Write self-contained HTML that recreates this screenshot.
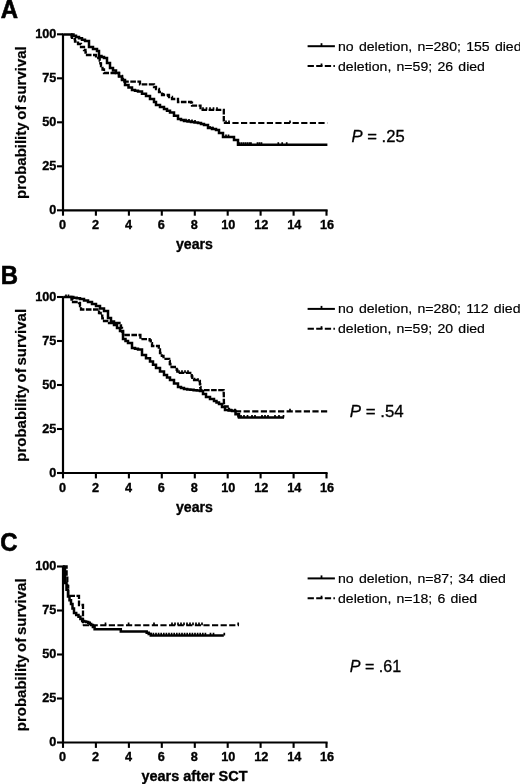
<!DOCTYPE html>
<html lang="en">
<head>
<meta charset="utf-8">
<title>Survival curves</title>
<style>
html,body{margin:0;padding:0;background:#fff;}
body{width:520px;height:784px;overflow:hidden;}
svg{display:block;font-family:"Liberation Sans", Arial, Helvetica, sans-serif;fill:#000;}
.L{font-size:25.2px;font-weight:700;stroke:#000;stroke-width:0.6px;}
text[font-weight="700"]{stroke:#000;stroke-width:0.35px;}
.r{stroke:#000;stroke-width:0.2px;}
.p{stroke:#000;stroke-width:0.3px;}
</style>
</head>
<body>
<svg width="520" height="784" viewBox="0 0 520 784">
<rect x="0" y="0" width="520" height="784" fill="#fff"/>
<text transform="translate(0.8,17.7) scale(0.95,1)" class="L">A</text>
<text transform="translate(0.7,283.6) scale(0.95,1)" class="L">B</text>
<text transform="translate(0.3,550.5) scale(0.95,1)" class="L">C</text>
<path d="M63.0,33.5 V211.0" stroke="#000" stroke-width="2.2" fill="none"/>
<path d="M62.0,210.3 H327.6" stroke="#000" stroke-width="2.2" fill="none"/>
<path d="M57.0,34.3 H63.0" stroke="#000" stroke-width="2.1"/>
<text x="56.3" y="38.0" text-anchor="end" font-size="12.7" font-weight="700">100</text>
<path d="M57.0,78.3 H63.0" stroke="#000" stroke-width="2.1"/>
<text x="56.3" y="82.0" text-anchor="end" font-size="12.7" font-weight="700">75</text>
<path d="M57.0,122.3 H63.0" stroke="#000" stroke-width="2.1"/>
<text x="56.3" y="126.0" text-anchor="end" font-size="12.7" font-weight="700">50</text>
<path d="M57.0,166.3 H63.0" stroke="#000" stroke-width="2.1"/>
<text x="56.3" y="170.0" text-anchor="end" font-size="12.7" font-weight="700">25</text>
<path d="M57.0,210.3 H63.0" stroke="#000" stroke-width="2.1"/>
<text x="56.3" y="214.0" text-anchor="end" font-size="12.7" font-weight="700">0</text>
<path d="M63.0,210.3 V215.7" stroke="#000" stroke-width="2.1"/>
<text x="62.6" y="228.8" text-anchor="middle" font-size="12.7" font-weight="700">0</text>
<path d="M95.9,210.3 V215.7" stroke="#000" stroke-width="2.1"/>
<text x="95.5" y="228.8" text-anchor="middle" font-size="12.7" font-weight="700">2</text>
<path d="M128.9,210.3 V215.7" stroke="#000" stroke-width="2.1"/>
<text x="128.5" y="228.8" text-anchor="middle" font-size="12.7" font-weight="700">4</text>
<path d="M161.8,210.3 V215.7" stroke="#000" stroke-width="2.1"/>
<text x="161.4" y="228.8" text-anchor="middle" font-size="12.7" font-weight="700">6</text>
<path d="M194.8,210.3 V215.7" stroke="#000" stroke-width="2.1"/>
<text x="194.4" y="228.8" text-anchor="middle" font-size="12.7" font-weight="700">8</text>
<path d="M227.7,210.3 V215.7" stroke="#000" stroke-width="2.1"/>
<text x="228.3" y="228.8" text-anchor="middle" font-size="12.7" font-weight="700">10</text>
<path d="M260.6,210.3 V215.7" stroke="#000" stroke-width="2.1"/>
<text x="261.2" y="228.8" text-anchor="middle" font-size="12.7" font-weight="700">12</text>
<path d="M293.6,210.3 V215.7" stroke="#000" stroke-width="2.1"/>
<text x="294.2" y="228.8" text-anchor="middle" font-size="12.7" font-weight="700">14</text>
<path d="M326.5,210.3 V215.7" stroke="#000" stroke-width="2.1"/>
<text x="327.1" y="228.8" text-anchor="middle" font-size="12.7" font-weight="700">16</text>
<text transform="translate(26.2,199.0) rotate(-90) scale(1,0.97)" font-size="15" font-weight="700" style="stroke-width:0.2px" word-spacing="-1.5">probability of survival</text>
<text x="176" y="249.0" font-size="14.6" font-weight="700" textLength="36.9" lengthAdjust="spacingAndGlyphs">years</text>
<path d="M71.0,34.4 L71.5,34.4 L71.5,36.7 L72.0,36.7 L72.0,39.0 L75.0,39.0 L75.0,41.5 L78.0,41.5 L78.0,44.0 L81.0,44.0 L81.0,47.0 L84.0,47.0 L84.0,50.0 L85.5,50.0 L85.5,52.5 L87.0,52.5 L87.0,55.0 L95.0,55.0 L96.0,55.0 L96.0,58.0 L99.0,58.0 L99.7,58.0 L99.7,60.7 L100.3,60.7 L100.3,63.3 L101.0,63.3 L101.0,66.0 L102.5,66.0 L102.5,69.5 L104.0,69.5 L104.0,73.0 L116.0,73.0 L119.0,73.0 L119.0,76.0 L122.0,76.0 L122.0,79.0 L123.0,79.0 L123.0,81.6 L138.0,81.6 L140.0,81.6 L140.0,84.4 L150.0,84.4 L154.0,84.4 L154.0,87.0 L156.0,87.0 L156.0,89.0 L159.0,89.0 L159.0,92.0 L162.0,92.0 L162.0,95.0 L169.0,95.0 L169.0,97.0 L172.0,97.0 L172.0,99.0 L178.0,99.0 L178.0,102.0 L191.0,102.0 L191.0,102.6 L192.0,102.6 L192.0,105.6 L199.5,105.6 L200.5,105.6 L200.5,109.8 L221.0,109.8 L223.8,109.8 L223.8,110.5 L223.8,123.0" stroke="#000" stroke-width="2.3" fill="none" stroke-dasharray="5.6 1.5" stroke-linejoin="miter"/>
<path d="M223.8,123.0 L327.2,123.0" stroke="#000" stroke-width="2.1" fill="none" stroke-dasharray="6.2 2.4"/>
<path d="M63.6,34.4 L71.0,34.4 L73.5,34.4 L73.5,35.7 L76.0,35.7 L76.0,37.0 L79.0,37.0 L79.0,38.3 L82.0,38.3 L82.0,39.7 L85.0,39.7 L85.0,41.0 L89.0,41.0 L89.0,47.0 L93.0,47.0 L93.0,49.0 L97.0,49.0 L97.0,51.0 L99.0,51.0 L99.0,56.0 L101.5,56.0 L101.5,57.0 L104.0,57.0 L104.0,58.0 L107.0,58.0 L107.0,63.0 L110.0,63.0 L110.0,68.0 L113.0,68.0 L113.0,70.5 L116.0,70.5 L116.0,73.0 L119.0,73.0 L119.0,76.5 L122.0,76.5 L122.0,80.0 L125.0,80.0 L125.0,85.0 L128.5,85.0 L128.5,87.5 L132.0,87.5 L132.0,90.0 L135.0,90.0 L135.0,90.8 L138.0,90.8 L138.0,91.6 L142.0,91.6 L142.0,93.8 L146.0,93.8 L146.0,96.0 L150.0,96.0 L150.0,99.0 L154.0,99.0 L154.0,102.0 L156.0,102.0 L156.0,105.0 L160.0,105.0 L160.0,107.0 L164.0,107.0 L164.0,109.0 L167.0,109.0 L167.0,110.7 L170.0,110.7 L170.0,112.4 L174.0,112.4 L174.0,115.7 L178.0,115.7 L178.0,119.0 L181.0,119.0 L181.0,120.0 L184.0,120.0 L184.0,121.0 L187.5,121.0 L187.5,121.5 L191.0,121.5 L191.0,122.0 L194.5,122.0 L194.5,122.5 L198.0,122.5 L198.0,123.0 L201.0,123.0 L201.0,124.0 L204.0,124.0 L204.0,125.0 L208.0,125.0 L208.0,128.0 L212.0,128.0 L212.0,129.0 L216.0,129.0 L216.0,130.0 L219.0,130.0 L219.0,133.0 L223.0,133.0 L223.0,137.0 L230.0,137.0 L234.0,137.0 L234.0,140.0 L238.0,140.0 L238.0,144.8 L327.4,144.8" stroke="#000" stroke-width="2.5" fill="none" stroke-linejoin="miter"/>
<path d="M239.5,144.8v-2.6M241.5,144.8v-2.6M243.5,144.8v-2.6M245.5,144.8v-2.6M247.5,144.8v-2.6M249.5,144.8v-2.6M251.0,144.8v-2.6M257.5,144.8v-2.6M259.5,144.8v-2.6M261.5,144.8v-2.6M278.3,144.8v-2.6M282.2,144.8v-2.6M286.7,144.8v-2.6M186.0,121.3v-2.6M189.0,121.6v-2.6M192.0,122.0v-2.6M195.0,122.5v-2.6M226.0,137.0v-2.6M228.5,137.0v-2.6M210.0,128.6v-2.6M213.0,129.3v-2.6M290.0,123.0v-2.6M226.0,123.0v-2.6M229.0,123.0v-2.6M163.5,95.5v-2.6M168.0,97.0v-2.6M203.0,109.8v-2.6M206.5,109.8v-2.6M210.0,109.8v-2.6M213.5,109.8v-2.6M217.0,109.8v-2.6" stroke="#000" stroke-width="1.7" fill="none"/>
<path d="M307.6,46.2 H334.9" stroke="#000" stroke-width="2"/>
<path d="M321.5,46.2 v-3.0" stroke="#000" stroke-width="1.8"/>
<path d="M307.6,66.1 H334.9" stroke="#000" stroke-width="2" stroke-dasharray="6.3 2.3" fill="none"/>
<path d="M321.5,66.1 v-2.6" stroke="#000" stroke-width="1.8"/>
<text transform="translate(338.0,50.7) scale(1,0.95)" class="r" font-size="14.1" word-spacing="1.3">no deletion, n=280; 155 died</text>
<text transform="translate(338.0,70.6) scale(1,0.95)" class="r" font-size="14.1" word-spacing="1.3">deletion, n=59; 26 died</text>
<text x="351.6" y="141.9" class="p" font-size="16.4" textLength="53.1" lengthAdjust="spacingAndGlyphs"><tspan font-style="italic">P</tspan> = .25</text>
<path d="M63.0,296.2 V473.7" stroke="#000" stroke-width="2.2" fill="none"/>
<path d="M62.0,473.0 H327.6" stroke="#000" stroke-width="2.2" fill="none"/>
<path d="M57.0,297.0 H63.0" stroke="#000" stroke-width="2.1"/>
<text x="56.3" y="300.7" text-anchor="end" font-size="12.7" font-weight="700">100</text>
<path d="M57.0,341.0 H63.0" stroke="#000" stroke-width="2.1"/>
<text x="56.3" y="344.7" text-anchor="end" font-size="12.7" font-weight="700">75</text>
<path d="M57.0,385.0 H63.0" stroke="#000" stroke-width="2.1"/>
<text x="56.3" y="388.7" text-anchor="end" font-size="12.7" font-weight="700">50</text>
<path d="M57.0,429.0 H63.0" stroke="#000" stroke-width="2.1"/>
<text x="56.3" y="432.7" text-anchor="end" font-size="12.7" font-weight="700">25</text>
<path d="M57.0,473.0 H63.0" stroke="#000" stroke-width="2.1"/>
<text x="56.3" y="476.7" text-anchor="end" font-size="12.7" font-weight="700">0</text>
<path d="M63.0,473.0 V478.4" stroke="#000" stroke-width="2.1"/>
<text x="62.6" y="491.5" text-anchor="middle" font-size="12.7" font-weight="700">0</text>
<path d="M95.9,473.0 V478.4" stroke="#000" stroke-width="2.1"/>
<text x="95.5" y="491.5" text-anchor="middle" font-size="12.7" font-weight="700">2</text>
<path d="M128.9,473.0 V478.4" stroke="#000" stroke-width="2.1"/>
<text x="128.5" y="491.5" text-anchor="middle" font-size="12.7" font-weight="700">4</text>
<path d="M161.8,473.0 V478.4" stroke="#000" stroke-width="2.1"/>
<text x="161.4" y="491.5" text-anchor="middle" font-size="12.7" font-weight="700">6</text>
<path d="M194.8,473.0 V478.4" stroke="#000" stroke-width="2.1"/>
<text x="194.4" y="491.5" text-anchor="middle" font-size="12.7" font-weight="700">8</text>
<path d="M227.7,473.0 V478.4" stroke="#000" stroke-width="2.1"/>
<text x="228.3" y="491.5" text-anchor="middle" font-size="12.7" font-weight="700">10</text>
<path d="M260.6,473.0 V478.4" stroke="#000" stroke-width="2.1"/>
<text x="261.2" y="491.5" text-anchor="middle" font-size="12.7" font-weight="700">12</text>
<path d="M293.6,473.0 V478.4" stroke="#000" stroke-width="2.1"/>
<text x="294.2" y="491.5" text-anchor="middle" font-size="12.7" font-weight="700">14</text>
<path d="M326.5,473.0 V478.4" stroke="#000" stroke-width="2.1"/>
<text x="327.1" y="491.5" text-anchor="middle" font-size="12.7" font-weight="700">16</text>
<text transform="translate(26.2,461.7) rotate(-90) scale(1,0.97)" font-size="15" font-weight="700" style="stroke-width:0.2px" word-spacing="-1.5">probability of survival</text>
<text x="176" y="511.7" font-size="14.6" font-weight="700" textLength="36.9" lengthAdjust="spacingAndGlyphs">years</text>
<path d="M70.0,297.0 L71.5,297.0 L71.5,299.5 L73.0,299.5 L73.0,302.0 L79.0,302.0 L79.0,303.0 L80.0,303.0 L80.0,306.2 L81.0,306.2 L81.0,309.5 L97.0,309.5 L99.0,309.5 L99.0,313.0 L100.7,313.0 L100.7,315.7 L102.3,315.7 L102.3,318.3 L104.0,318.3 L104.0,321.0 L109.0,321.0 L109.0,323.0 L118.0,323.0 L119.5,323.0 L119.5,325.5 L121.0,325.5 L121.0,328.0 L122.0,328.0 L122.0,331.5 L123.0,331.5 L123.0,335.0 L139.2,335.0 L140.4,335.0 L140.4,339.2 L149.6,339.2 L149.6,340.4 L150.8,340.4 L150.8,343.2 L152.0,343.2 L152.0,346.0 L157.7,346.0 L158.8,346.0 L158.8,349.5 L160.0,349.5 L160.0,353.0 L161.8,353.0 L161.8,355.9 L163.5,355.9 L163.5,358.8 L169.2,358.8 L169.2,361.0 L169.8,361.0 L169.8,364.0 L170.4,364.0 L170.4,367.0 L176.0,367.0 L176.7,367.0 L176.7,369.9 L177.3,369.9 L177.3,372.9 L191.0,372.9 L191.7,372.9 L191.7,376.4 L192.3,376.4 L192.3,380.0 L199.5,380.0 L199.5,381.0 L199.9,381.0 L199.9,384.1 L200.2,384.1 L200.2,387.1 L200.6,387.1 L200.6,390.2 L223.6,390.2 L223.6,390.4 L223.7,390.4 L223.7,393.6 L223.8,393.6 L223.8,396.8 L223.8,396.8 L223.8,400.1 L223.9,400.1 L223.9,403.3 L224.0,403.3 L224.0,406.5 L229.0,406.5 L229.0,410.0 L235.0,410.0 L235.0,411.4" stroke="#000" stroke-width="2.3" fill="none" stroke-dasharray="5.6 1.5" stroke-linejoin="miter"/>
<path d="M235.0,411.4 L327.4,411.4" stroke="#000" stroke-width="2.1" fill="none" stroke-dasharray="6.2 2.4"/>
<path d="M63.6,297.0 L70.0,297.0 L73.3,297.0 L73.3,297.7 L76.7,297.7 L76.7,298.3 L80.0,298.3 L80.0,299.0 L84.0,299.0 L84.0,300.5 L88.0,300.5 L88.0,302.0 L92.0,302.0 L92.0,304.0 L96.0,304.0 L96.0,306.0 L100.0,306.0 L100.0,308.5 L104.0,308.5 L104.0,311.0 L108.0,311.0 L108.0,318.0 L111.0,318.0 L111.0,321.5 L114.0,321.5 L114.0,325.0 L117.0,325.0 L117.0,328.0 L120.0,328.0 L120.0,331.0 L123.0,331.0 L123.0,339.0 L125.5,339.0 L125.5,341.0 L128.0,341.0 L128.0,343.0 L132.0,343.0 L132.0,348.0 L135.0,348.0 L135.0,348.8 L138.0,348.8 L138.0,349.6 L142.0,349.6 L142.0,355.0 L146.0,355.0 L146.0,358.2 L150.0,358.2 L150.0,361.5 L153.0,361.5 L153.0,364.8 L156.0,364.8 L156.0,368.0 L160.0,368.0 L160.0,371.5 L164.0,371.5 L164.0,375.0 L167.0,375.0 L167.0,377.5 L170.0,377.5 L170.0,380.0 L174.0,380.0 L174.0,383.5 L178.0,383.5 L178.0,387.0 L181.0,387.0 L181.0,388.0 L184.0,388.0 L184.0,389.0 L187.2,389.0 L187.2,389.4 L190.4,389.4 L190.4,389.8 L193.6,389.8 L193.6,390.2 L196.8,390.2 L196.8,390.6 L200.0,390.6 L200.0,391.0 L203.0,391.0 L203.0,394.0 L206.0,394.0 L206.0,397.0 L210.0,397.0 L210.0,399.0 L214.0,399.0 L214.0,401.0 L216.5,401.0 L216.5,402.5 L219.0,402.5 L219.0,404.0 L222.0,404.0 L222.0,407.0 L225.0,407.0 L225.0,410.0 L228.5,410.0 L228.5,410.5 L232.0,410.5 L232.0,411.0 L235.5,411.0 L235.5,414.3 L239.0,414.3 L239.0,417.6 L284.0,417.6" stroke="#000" stroke-width="2.5" fill="none" stroke-linejoin="miter"/>
<path d="M238.0,417.6v-2.6M241.0,417.6v-2.6M244.0,417.6v-2.6M247.5,417.6v-2.6M252.0,417.6v-2.6M255.0,417.6v-2.6M262.0,417.6v-2.6M265.0,417.6v-2.6M268.0,417.6v-2.6M275.0,417.6v-2.6M279.0,417.6v-2.6M283.5,417.6v-2.6M66.0,297.0v-2.6M68.5,297.0v-2.6M290.0,411.4v-2.6M179.0,372.9v-2.6M182.0,372.9v-2.6M185.0,372.9v-2.6M188.0,372.9v-2.6M194.5,380.3v-2.6M198.0,380.8v-2.6" stroke="#000" stroke-width="1.7" fill="none"/>
<path d="M307.6,308.9 H334.9" stroke="#000" stroke-width="2"/>
<path d="M321.5,308.9 v-3.0" stroke="#000" stroke-width="1.8"/>
<path d="M307.6,328.8 H334.9" stroke="#000" stroke-width="2" stroke-dasharray="6.3 2.3" fill="none"/>
<path d="M321.5,328.8 v-2.6" stroke="#000" stroke-width="1.8"/>
<text transform="translate(338.0,313.4) scale(1,0.95)" class="r" font-size="14.1" word-spacing="1.3">no deletion, n=280; 112 died</text>
<text transform="translate(338.0,333.3) scale(1,0.95)" class="r" font-size="14.1" word-spacing="1.3">deletion, n=59; 20 died</text>
<text x="349.8" y="416.5" class="p" font-size="16.4" textLength="53.9" lengthAdjust="spacingAndGlyphs"><tspan font-style="italic">P</tspan> = .54</text>
<path d="M63.0,565.8 V743.2" stroke="#000" stroke-width="2.2" fill="none"/>
<path d="M62.0,742.5 H327.6" stroke="#000" stroke-width="2.2" fill="none"/>
<path d="M57.0,566.5 H63.0" stroke="#000" stroke-width="2.1"/>
<text x="56.3" y="570.2" text-anchor="end" font-size="12.7" font-weight="700">100</text>
<path d="M57.0,610.5 H63.0" stroke="#000" stroke-width="2.1"/>
<text x="56.3" y="614.2" text-anchor="end" font-size="12.7" font-weight="700">75</text>
<path d="M57.0,654.5 H63.0" stroke="#000" stroke-width="2.1"/>
<text x="56.3" y="658.2" text-anchor="end" font-size="12.7" font-weight="700">50</text>
<path d="M57.0,698.5 H63.0" stroke="#000" stroke-width="2.1"/>
<text x="56.3" y="702.2" text-anchor="end" font-size="12.7" font-weight="700">25</text>
<path d="M57.0,742.5 H63.0" stroke="#000" stroke-width="2.1"/>
<text x="56.3" y="746.2" text-anchor="end" font-size="12.7" font-weight="700">0</text>
<path d="M63.0,742.5 V747.9" stroke="#000" stroke-width="2.1"/>
<text x="62.6" y="761.0" text-anchor="middle" font-size="12.7" font-weight="700">0</text>
<path d="M95.9,742.5 V747.9" stroke="#000" stroke-width="2.1"/>
<text x="95.5" y="761.0" text-anchor="middle" font-size="12.7" font-weight="700">2</text>
<path d="M128.9,742.5 V747.9" stroke="#000" stroke-width="2.1"/>
<text x="128.5" y="761.0" text-anchor="middle" font-size="12.7" font-weight="700">4</text>
<path d="M161.8,742.5 V747.9" stroke="#000" stroke-width="2.1"/>
<text x="161.4" y="761.0" text-anchor="middle" font-size="12.7" font-weight="700">6</text>
<path d="M194.8,742.5 V747.9" stroke="#000" stroke-width="2.1"/>
<text x="194.4" y="761.0" text-anchor="middle" font-size="12.7" font-weight="700">8</text>
<path d="M227.7,742.5 V747.9" stroke="#000" stroke-width="2.1"/>
<text x="228.3" y="761.0" text-anchor="middle" font-size="12.7" font-weight="700">10</text>
<path d="M260.6,742.5 V747.9" stroke="#000" stroke-width="2.1"/>
<text x="261.2" y="761.0" text-anchor="middle" font-size="12.7" font-weight="700">12</text>
<path d="M293.6,742.5 V747.9" stroke="#000" stroke-width="2.1"/>
<text x="294.2" y="761.0" text-anchor="middle" font-size="12.7" font-weight="700">14</text>
<path d="M326.5,742.5 V747.9" stroke="#000" stroke-width="2.1"/>
<text x="327.1" y="761.0" text-anchor="middle" font-size="12.7" font-weight="700">16</text>
<text transform="translate(26.2,731.2) rotate(-90) scale(1,0.97)" font-size="15" font-weight="700" style="stroke-width:0.2px" word-spacing="-1.5">probability of survival</text>
<text x="141.5" y="781.0" font-size="14.6" font-weight="700" textLength="106" lengthAdjust="spacingAndGlyphs">years after SCT</text>
<path d="M63.2,566.5 L66.6,566.5 L66.6,576.3 L67.3,576.3 L67.3,586.0 L68.2,586.0 L68.2,595.8 L79.0,595.8 L79.0,605.0 L83.0,605.0 L83.0,625.2" stroke="#000" stroke-width="2.3" fill="none" stroke-dasharray="5.6 1.5" stroke-linejoin="miter"/>
<path d="M83.0,625.2 L239.0,625.2" stroke="#000" stroke-width="2.1" fill="none" stroke-dasharray="6.2 2.4"/>
<path d="M63.0,566.5 L63.5,566.5 L63.5,568.0 L65.0,568.0 L65.0,583.0 L66.5,583.0 L66.5,589.8 L68.0,589.8 L68.0,596.5 L69.5,596.5 L69.5,600.2 L71.0,600.2 L71.0,604.0 L72.5,604.0 L72.5,608.5 L74.0,608.5 L74.0,613.0 L76.2,613.0 L76.2,614.9 L78.5,614.9 L78.5,616.7 L80.4,616.7 L80.4,618.9 L82.2,618.9 L82.2,621.0 L84.2,621.0 L84.2,621.6 L86.2,621.6 L86.2,622.1 L88.2,622.1 L88.2,622.7 L89.8,622.7 L89.8,623.9 L91.2,623.9 L91.2,625.0 L92.9,625.0 L92.9,627.1 L94.6,627.1 L94.6,629.2 L120.8,629.2 L120.8,631.5 L144.6,631.5 L146.7,631.5 L146.7,632.8 L148.7,632.8 L148.7,634.1 L150.8,634.1 L150.8,635.4 L223.8,635.4" stroke="#000" stroke-width="2.5" fill="none" stroke-linejoin="miter"/>
<path d="M150.8,635.4v-2.6M153.4,635.4v-2.6M156.0,635.4v-2.6M158.6,635.4v-2.6M161.2,635.4v-2.6M163.8,635.4v-2.6M166.4,635.4v-2.6M169.0,635.4v-2.6M171.6,635.4v-2.6M174.2,635.4v-2.6M176.8,635.4v-2.6M179.4,635.4v-2.6M182.0,635.4v-2.6M184.6,635.4v-2.6M187.2,635.4v-2.6M189.8,635.4v-2.6M192.4,635.4v-2.6M195.0,635.4v-2.6M197.6,635.4v-2.6M200.2,635.4v-2.6M202.8,635.4v-2.6M205.4,635.4v-2.6M210.5,635.4v-2.6M213.5,635.4v-2.6M224.3,635.4v-2.6M105.5,625.2v-2.6M128.6,625.2v-2.6M154.0,625.2v-2.6M238.2,625.2v-2.6M172.0,625.2v-2.6M175.0,625.2v-2.6M178.0,625.2v-2.6M181.0,625.2v-2.6M184.0,625.2v-2.6M187.0,625.2v-2.6M190.0,625.2v-2.6M193.0,625.2v-2.6M196.0,625.2v-2.6M199.0,625.2v-2.6M202.0,625.2v-2.6" stroke="#000" stroke-width="1.7" fill="none"/>
<path d="M307.6,578.4 H334.9" stroke="#000" stroke-width="2"/>
<path d="M321.5,578.4 v-3.0" stroke="#000" stroke-width="1.8"/>
<path d="M307.6,598.3 H334.9" stroke="#000" stroke-width="2" stroke-dasharray="6.3 2.3" fill="none"/>
<path d="M321.5,598.3 v-2.6" stroke="#000" stroke-width="1.8"/>
<text transform="translate(338.0,582.9) scale(1,0.95)" class="r" font-size="14.1" word-spacing="1.3">no deletion, n=87; 34 died</text>
<text transform="translate(338.0,602.8) scale(1,0.95)" class="r" font-size="14.1" word-spacing="1.3">deletion, n=18; 6 died</text>
<text x="349.8" y="671.5" class="p" font-size="16.4" textLength="51.4" lengthAdjust="spacingAndGlyphs"><tspan font-style="italic">P</tspan> = .61</text>
</svg>
</body>
</html>
